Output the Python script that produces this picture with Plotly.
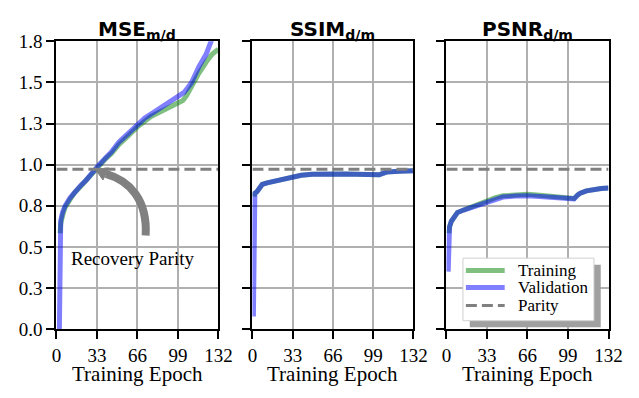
import plotly.graph_objects as go

# ---------------- data ----------------
x_max = 132
y_ticks = [0.0, 1.8/7, 2*1.8/7, 3*1.8/7, 4*1.8/7, 5*1.8/7, 6*1.8/7, 1.8]
y_tick_text = ["0.0", "0.3", "0.5", "0.8", "1.0", "1.3", "1.5", "1.8"]
x_ticks = [0, 33, 66, 99, 132]
parity_value = 1.0

mse_train_ep = [3, 3.5, 5, 7, 11, 15, 20, 24, 28, 32, 35, 40, 45, 51, 58, 66, 77, 85, 92, 99, 103, 106, 110, 116, 122, 127, 132]
mse_train = [0.6, 0.66, 0.71, 0.76, 0.81, 0.855, 0.895, 0.93, 0.965, 1.0, 1.025, 1.065, 1.10, 1.155, 1.205, 1.265, 1.33, 1.36, 1.39, 1.41, 1.43, 1.46, 1.52, 1.60, 1.67, 1.72, 1.75]
mse_val_ep = [2.4, 2.7, 3, 3.5, 5, 7, 11, 15, 20, 24, 28, 32, 35, 40, 45, 51, 58, 66, 72, 77, 85, 92, 99, 104, 110, 116, 122, 126, 132]
mse_val = [0.0, 0.2, 0.55, 0.68, 0.73, 0.77, 0.82, 0.86, 0.90, 0.93, 0.97, 1.0, 1.03, 1.07, 1.11, 1.17, 1.22, 1.28, 1.32, 1.345, 1.385, 1.42, 1.46, 1.48, 1.54, 1.64, 1.72, 1.80, 1.88]

ssim_train_ep = [1.3, 2, 3.7, 6, 8, 12, 20, 27, 33, 40, 49, 58, 67, 76, 85, 95, 104, 107, 110, 120, 132]
ssim_train = [0.83, 0.85, 0.86, 0.89, 0.905, 0.915, 0.93, 0.945, 0.953, 0.962, 0.968, 0.97, 0.97, 0.97, 0.968, 0.965, 0.965, 0.975, 0.982, 0.988, 0.99]
ssim_val_ep = [0.8, 1.0, 1.3, 2, 3.7, 6, 8, 12, 20, 27, 33, 40, 49, 58, 67, 76, 85, 95, 104, 107, 110, 120, 132]
ssim_val = [0.08, 0.6, 0.83, 0.85, 0.86, 0.89, 0.905, 0.915, 0.93, 0.945, 0.953, 0.962, 0.968, 0.97, 0.97, 0.97, 0.968, 0.965, 0.965, 0.975, 0.982, 0.988, 0.99]

psnr_train_ep = [2.0, 2.5, 4, 9, 14, 20, 27, 33, 40, 46, 56, 66, 76, 86, 95, 102, 104, 107, 109, 114, 120, 126, 132]
psnr_train = [0.6, 0.64, 0.675, 0.73, 0.745, 0.762, 0.785, 0.807, 0.823, 0.834, 0.84, 0.843, 0.838, 0.83, 0.82, 0.815, 0.817, 0.84, 0.85, 0.865, 0.876, 0.88, 0.882]
psnr_val_ep = [1.4, 1.6, 2.5, 4, 9, 14, 20, 27, 33, 40, 46, 56, 66, 76, 86, 95, 102, 104, 107, 109, 114, 120, 126, 132]
psnr_val = [0.36, 0.55, 0.64, 0.675, 0.73, 0.745, 0.76, 0.78, 0.80, 0.815, 0.826, 0.832, 0.835, 0.83, 0.823, 0.815, 0.812, 0.815, 0.84, 0.85, 0.865, 0.876, 0.88, 0.882]

panel_titles = ["<b>MSE<sub>m/d</sub></b>", "<b>SSIM<sub>d/m</sub></b>", "<b>PSNR<sub>d/m</sub></b>"]
series_names = ["Training", "Validation", "Parity"]
annotation_text = "Recovery Parity"
axis_title = "Training Epoch"

# ---------------- styling ----------------
W, H = 639, 398
green = "rgba(0,128,0,0.5)"
blue = "rgba(0,0,255,0.5)"
gray = "#808080"
serif = "Liberation Serif"
panels_px = [(53, 220), (255, 421), (455, 622)]
top_px, bot_px = 33, 337
dash = "11px,5px"

fig = go.Figure()
panels = [
    (mse_train_ep, mse_train, mse_val_ep, mse_val),
    (ssim_train_ep, ssim_train, ssim_val_ep, ssim_val),
    (psnr_train_ep, psnr_train, psnr_val_ep, psnr_val),
]
for i, (te, tv, ve, vv) in enumerate(panels):
    xa = "x" if i == 0 else f"x{i+1}"
    ya = "y" if i == 0 else f"y{i+1}"
    fig.add_trace(go.Scatter(x=te, y=tv, mode="lines", name=series_names[0],
                             line=dict(color=green, width=5), xaxis=xa, yaxis=ya,
                             showlegend=False))
    fig.add_trace(go.Scatter(x=ve, y=vv, mode="lines", name=series_names[1],
                             line=dict(color=blue, width=5), xaxis=xa, yaxis=ya,
                             showlegend=False))
    fig.add_trace(go.Scatter(x=[0, x_max], y=[parity_value, parity_value], mode="lines",
                             name=series_names[2],
                             line=dict(color=gray, width=3, dash=dash),
                             xaxis=xa, yaxis=ya, showlegend=False))

y_dom = [1 - bot_px / H, 1 - top_px / H]
axis_common = dict(showline=True, linecolor="black", linewidth=2, mirror=True,
                   ticks="outside", ticklen=8, tickwidth=2, tickcolor="black",
                   showgrid=True, gridcolor="#b0b0b0", gridwidth=2, zeroline=False,
                   tickfont=dict(family=serif, size=19, color="black"))
layout = dict(width=W, height=H, margin=dict(l=0, r=0, t=0, b=0),
              paper_bgcolor="white", plot_bgcolor="white", showlegend=False)
for i, (l, r) in enumerate(panels_px):
    sfx = "" if i == 0 else str(i + 1)
    layout[f"xaxis{sfx}"] = dict(domain=[l / W, r / W], range=[0, x_max],
                                 tickvals=x_ticks, anchor=f"y{sfx}", **axis_common)
    layout[f"yaxis{sfx}"] = dict(domain=y_dom, range=[0, 1.8], tickvals=y_ticks,
                                 ticktext=y_tick_text, anchor=f"x{sfx}",
                                 showticklabels=(i == 0), **axis_common)
fig.update_layout(**layout)

annotations = []
for i, (l, r) in enumerate(panels_px):
    cx = (l + r) / 2 / W
    annotations.append(dict(text=panel_titles[i], x=cx, y=1 - 21 / H, xref="paper", yref="paper",
                            xanchor="center", yanchor="middle", showarrow=False,
                            font=dict(family="DejaVu Sans", size=20, color="black")))
    annotations.append(dict(text=axis_title, x=cx, y=1 - 384 / H, xref="paper", yref="paper",
                            xanchor="center", yanchor="middle", showarrow=False,
                            font=dict(family=serif, size=21, color="black")))
annotations.append(dict(text=annotation_text, x=61.7, y=0.444, xref="x", yref="y",
                        xanchor="center", yanchor="middle", showarrow=False,
                        font=dict(family=serif, size=19, color="black")))

# curved arrow pointing at the parity crossing
fig.add_shape(type="path", xref="x", yref="y",
              path="M 72.7,0.586 C 74.3,0.811 59.3,0.930 40.3,0.971",
              line=dict(color=gray, width=8), layer="above")
fig.add_shape(type="path", xref="x", yref="y",
              path="M 31.6,1.001 L 42.6,1.008 L 37.9,0.933 Z",
              line=dict(color=gray, width=1), fillcolor=gray, layer="above")

# legend (drawn box with drop shadow)
def px_x(v):
    return v / W

def px_y(v):
    return 1 - v / H

lx0, ly0, lx1, ly1 = 472, 262, 607, 328
fig.add_shape(type="rect", xref="paper", yref="paper",
              x0=px_x(lx0 + 7), x1=px_x(lx1 + 7), y0=px_y(ly1 + 7), y1=px_y(ly0 + 7),
              fillcolor="#a0a0a0", line=dict(width=0), layer="above")
fig.add_shape(type="rect", xref="paper", yref="paper",
              x0=px_x(lx0), x1=px_x(lx1), y0=px_y(ly1), y1=px_y(ly0),
              fillcolor="white", line=dict(color="#d0d0d0", width=1), layer="above")
legend_rows = [275, 293, 312]
legend_styles = [dict(color=green, width=5), dict(color=blue, width=5),
                 dict(color=gray, width=3, dash=dash)]
for name, ry, st in zip(series_names, legend_rows, legend_styles):
    fig.add_shape(type="line", xref="paper", yref="paper",
                  x0=px_x(475), x1=px_x(515), y0=px_y(ry), y1=px_y(ry),
                  line=st, layer="above")
    annotations.append(dict(text=name, x=px_x(527), y=px_y(ry), xref="paper", yref="paper",
                            xanchor="left", yanchor="middle", showarrow=False,
                            font=dict(family=serif, size=17, color="black")))

fig.update_layout(annotations=annotations)
fig.write_html("out.html")
